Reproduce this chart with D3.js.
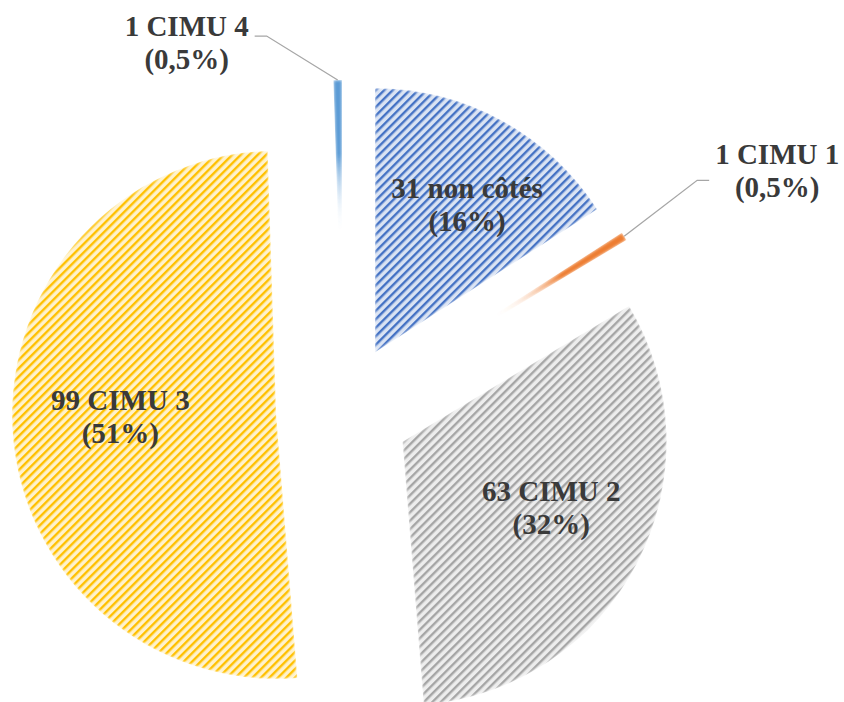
<!DOCTYPE html>
<html lang="fr">
<head>
    <meta charset="UTF-8">
    <title>Répartition CIMU</title>
    <script src="https://d3js.org/d3.v7.min.js"></script>
    <style>
        body{ margin:0; background:#fff; }
        svg{ display:block; }
        .lbl{ font-family:"Liberation Serif","Times New Roman",serif; font-weight:bold; font-size:29px; fill:#3a3a3a; }
    </style>
</head>
<body>
<svg width="844" height="702"></svg>

<script>
    // data
    const categories = ["non côtés", "CIMU 1", "CIMU 2", "CIMU 3", "CIMU 4"]
    const counts = [31, 1, 63, 99, 1]
    const percentLabels = ["16%", "0,5%", "32%", "51%", "0,5%"]
    const fgColors = ["#4472C4", "#ED7D31", "#A5A5A5", "#FFC000", "#5B9BD5"]
    const bgColors = ["#DAE3F3", "#FBE5D6", "#EDEDED", "#FFF2CC", "#DEEBF7"]

    const cx = 343, cy = 411
    const R = 264
    const explode = 67
    const labelR = 165
    // small shifts so the inside labels sit where Excel put them
    const labelNudge = [[13, -3], [0, 0], [2, -10], [9, -8], [0, 0]]

    // leader layouts for the two tiny slices (offsets from the slice's outer point)
    const outside = {
        1: {elbow: [73, -56], end: [85, -56], text: [153, -72]},
        4: {elbow: [-71, -44], end: [-83, -44], text: [-151, -44]}
    }

    const svg = d3.select("svg")
    const defs = svg.append("defs")

    // soft edges
    const f = defs.append("filter").attr("id", "soft")
        .attr("x", "-10%").attr("y", "-10%").attr("width", "120%").attr("height", "120%")
    f.append("feGaussianBlur").attr("in", "SourceAlpha").attr("stdDeviation", 1.4).attr("result", "b")
    f.append("feComposite").attr("in", "SourceGraphic").attr("in2", "b").attr("operator", "in")

    // wide upward diagonal hatches
    categories.forEach((c, i) => {
        const p = defs.append("pattern")
            .attr("id", "hatch" + i)
            .attr("patternUnits", "userSpaceOnUse")
            .attr("width", 6).attr("height", 6)
            .attr("patternTransform", "rotate(45)")
        p.append("rect").attr("width", 6).attr("height", 6).attr("fill", bgColors[i])
        p.append("rect").attr("x", 0).attr("width", 2.4).attr("height", 6).attr("fill", fgColors[i])

        // thin slivers fade out towards the centre
        const rg = defs.append("radialGradient")
            .attr("id", "fade" + i)
            .attr("gradientUnits", "userSpaceOnUse")
            .attr("cx", 0).attr("cy", 0).attr("r", R)
        rg.append("stop").attr("offset", 0.42).attr("stop-color", fgColors[i]).attr("stop-opacity", 0)
        rg.append("stop").attr("offset", 0.72).attr("stop-color", fgColors[i]).attr("stop-opacity", 1)
        rg.append("stop").attr("offset", 1).attr("stop-color", fgColors[i]).attr("stop-opacity", 1)
    })

    const pie = d3.pie().sort(null).value(d => d)
    const arcs = pie(counts)
    const arc = d3.arc().innerRadius(0).outerRadius(R)

    const g = svg.append("g").attr("transform", `translate(${cx},${cy})`)

    const dir = a => [Math.sin(a), -Math.cos(a)]

    arcs.forEach((d, i) => {
        const mid = (d.startAngle + d.endAngle) / 2
        const [ux, uy] = dir(mid)
        const slice = g.append("g").attr("transform", `translate(${ux * explode},${uy * explode})`)
        slice.append("path")
            .attr("d", arc(d))
            .attr("fill", counts[i] > 2 ? `url(#hatch${i})` : `url(#fade${i})`)
            .attr("filter", "url(#soft)")

        const text = counts[i] + " " + categories[i]
        const pct = "(" + percentLabels[i] + ")"

        if (outside[i]) {
            const o = outside[i]
            const px = ux * R, py = uy * R
            slice.append("path")
                .attr("d", d3.line()([[px, py], [px + o.elbow[0], py + o.elbow[1]], [px + o.end[0], py + o.end[1]]]))
                .attr("fill", "none").attr("stroke", "#A6A6A6").attr("stroke-width", 1.3)
            const t = slice.append("text").attr("class", "lbl").attr("text-anchor", "middle")
            t.append("tspan").attr("x", px + o.text[0]).attr("y", py + o.text[1]).text(text)
            t.append("tspan").attr("x", px + o.text[0]).attr("y", py + o.text[1] + 33).text(pct)
        } else {
            const lx = ux * labelR + labelNudge[i][0], ly = uy * labelR + labelNudge[i][1]
            const t = slice.append("text").attr("class", "lbl").attr("text-anchor", "middle")
            t.append("tspan").attr("x", lx).attr("y", ly - 6).text(text)
            t.append("tspan").attr("x", lx).attr("y", ly + 27).text(pct)
        }
    })
</script>
</body>
</html>
